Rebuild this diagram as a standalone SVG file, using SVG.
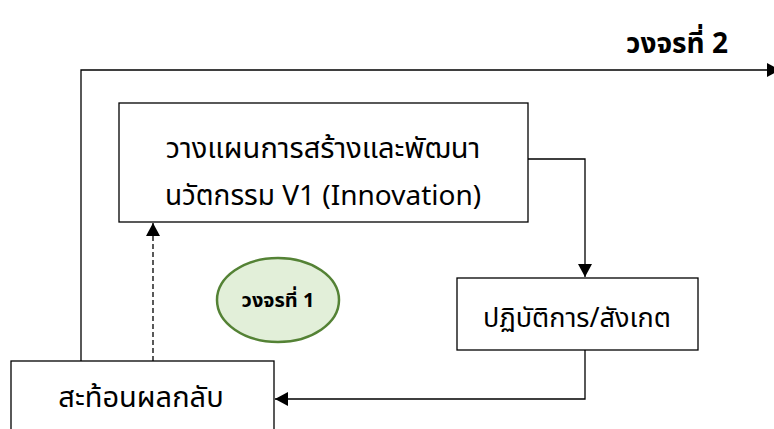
<svg xmlns="http://www.w3.org/2000/svg" width="774" height="429" viewBox="0 0 774 429">
<style>
.box{fill:#fff;stroke:#000;stroke-width:1.3}
.t{font-family:"Noto Sans Thai","Liberation Sans",sans-serif;font-size:27px;fill:#000;text-anchor:middle}
.b{font-family:"Noto Sans Thai","Liberation Sans",sans-serif;font-weight:bold;fill:#000;text-anchor:middle}
.c{fill:none;stroke:#000;stroke-width:1.3}
</style>
<defs>
<marker id="ah" viewBox="0 0 10 10" refX="10" refY="5" markerWidth="13" markerHeight="14" markerUnits="userSpaceOnUse" orient="auto" preserveAspectRatio="none"><path d="M0,0L10,5L0,10z" fill="#000"/></marker>
</defs>
<g id="connectors">
<path class="c" d="M81,361V70H780" marker-end="url(#ah)"/>
<path class="c" d="M528,159H585V277" marker-end="url(#ah)"/>
<path class="c" d="M585,350V399H275" marker-end="url(#ah)"/>
<path class="c" d="M153,361V223" stroke-dasharray="5,3" marker-end="url(#ah)"/>
</g>
<g id="plan">
<rect class="box" x="119" y="103" width="409" height="119"/>
<text class="t" x="323" y="158" style="font-size:29px">วางแผนการสร้างและพัฒนา</text>
<text class="t" x="323" y="205" style="font-size:28px">นวัตกรรม V1 (Innovation)</text>
</g>
<g id="act">
<rect class="box" x="457" y="278" width="241" height="72"/>
<text class="t" x="577" y="327" style="font-size:27px">ปฏิบัติการ/สังเกต</text>
</g>
<g id="reflect">
<rect class="box" x="11" y="361" width="263" height="80"/>
<text class="t" x="141" y="407" style="font-size:29px">สะท้อนผลกลับ</text>
</g>
<g id="cycle1">
<ellipse cx="278" cy="300" rx="61" ry="42" fill="#e2efd9" stroke="#548235" stroke-width="2.5"/>
<text class="b" x="278" y="307" style="font-size:20px">วงจรที่ 1</text>
</g>
<g id="cycle2">
<text class="b" x="677" y="53" style="font-size:28px">วงจรที่ 2</text>
</g>
</svg>
